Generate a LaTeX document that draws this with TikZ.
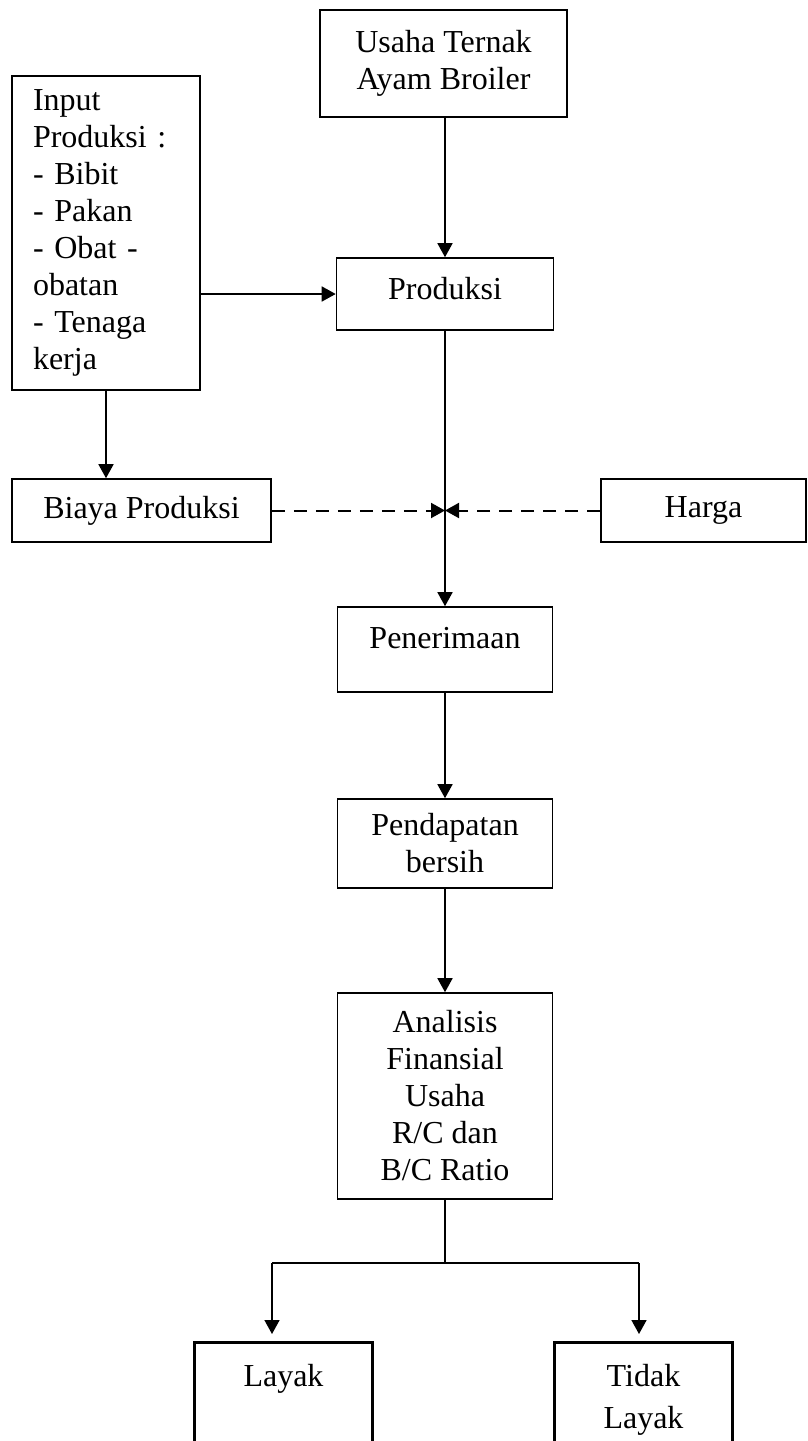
\documentclass[tikz,border=0pt]{standalone}
\usepackage{fontspec}
\setmainfont{Liberation Serif}
\usetikzlibrary{arrows.meta}

\begin{document}
\begin{tikzpicture}[x=0.5pt,y=-0.5pt,->,>={Triangle[length=7pt,width=7.5pt]},line width=0.8pt,
    font=\fontsize{16}{18.5}\selectfont,
    main node/.style={rectangle,draw,align=center,inner sep=0pt},
    mid node/.style={main node,minimum width=107.5pt},
    end node/.style={main node,anchor=north,line width=1.5pt,inner ysep=11pt,minimum width=89pt},
    putus/.style={dash pattern=on 6.5pt off 4.5pt,line width=1pt}]
      \useasboundingbox (0,0) rectangle (808,1441);
      \clip (0,0) rectangle (808,1441);

      \node[main node,minimum width=123.5pt,minimum height=53.5pt] (1) at (443.5,63.5) {Usaha Ternak\\Ayam Broiler};
      \node[main node,minimum width=94pt,minimum height=157pt,text width=73pt,align=left] (2) at (106,233) {Input\\Produksi :\\- Bibit\\- Pakan\\- Obat -\\obatan\\- Tenaga\\kerja};
      \node[mid node,minimum width=108.5pt,minimum height=36pt,text depth=6pt] (3) at (445,294) {Produksi};
      \node[main node,minimum width=129.5pt,minimum height=31.5pt] (4) at (141.5,510.5) {Biaya Produksi};
      \node[main node,minimum width=102.5pt,minimum height=31.5pt] (5) at (703.5,510.5) {Harga};
      \node[mid node,minimum height=42.5pt,text depth=11.5pt] (6) at (445,649.5) {Penerimaan};
      \node[mid node,minimum height=44.5pt] (7) at (445,843.5) {Pendapatan\\bersih};
      \node[mid node,minimum height=103pt] (8) at (445,1096) {Analisis\\Finansial\\Usaha\\R/C dan\\B/C Ratio};
      \node[end node] (9) at (283.5,1341) {\parbox[t][70pt][t]{80pt}{\centering Layak}};
      \node[end node] (10) at (643.5,1341) {\parbox[t][70pt][t]{80pt}{\centering Tidak\\[2.5pt]Layak}};

      \coordinate (meet) at (3.south |- 4.east);
      \coordinate (split) at (445,1263);
      \coordinate (kiri) at (272,1263);
      \coordinate (kanan) at (639,1263);

      \path
        (3.north |- 1.south) edge (3)
        (2.east |- 3.west) edge (3.west)
        (2.south) edge (2.south |- 4.north)
        (3) edge (6)
        (6) edge (7)
        (7) edge (8);

      \path[putus]
        (4) edge (meet)
        (5) edge (meet);

      \draw[-] (8) -- (split);
      \draw[-] (kiri) -- (kanan);
      \path[shorten >=3.5pt]
        (kiri) edge (kiri |- 9.north)
        (kanan) edge (kanan |- 10.north);

    \end{tikzpicture}
\end{document}
